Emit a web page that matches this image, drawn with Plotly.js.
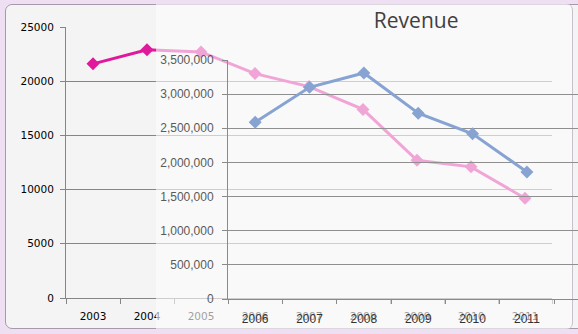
<!DOCTYPE html>
<html><head><meta charset="utf-8">
<script src="https://cdn.plot.ly/plotly-3.0.1.min.js"></script>
<style>
html,body{margin:0;padding:0;width:578px;height:334px;overflow:hidden;background:#eedff2;}
#box{position:absolute;left:5px;top:4px;width:590px;height:323px;background:#f4f4f4;border:1px solid #a898ae;border-radius:7px;}
#back{position:absolute;left:0;top:0;width:578px;height:334px;}
#veil{position:absolute;left:156px;top:4px;width:416px;height:325px;background:rgba(251,251,251,0.62);border-right:1px solid #c8c0cc;border-radius:0 6px 6px 0;}
#front{position:absolute;left:0;top:0;width:578px;height:334px;}
</style></head>
<body>
<div id="box"></div>
<div id="back"></div>
<div id="veil"></div>
<div id="front"></div>
<script>
// Back chart (left axis 0-25000)
const backYears = ['2003','2004','2005','2006','2007','2008','2009','2010','2011'];
const backValues = [21600, 22900, 22700, 20700, 19500, 17400, 12700, 12100, 9200];
const backTicks = [0, 5000, 10000, 15000, 20000, 25000];

// Front chart "Revenue"
const frontYears = ['2006','2007','2008','2009','2010','2011'];
const revenue = [2590000, 3100000, 3310000, 2720000, 2420000, 1860000];
const frontTicks = [0, 500000, 1000000, 1500000, 2000000, 2500000, 3000000, 3500000];

Plotly.newPlot('back', [{
  type:'scatter', mode:'lines+markers', x:backYears, y:backValues,
  line:{color:'#e0199c', width:3},
  marker:{symbol:'diamond', size:10, color:'#e0199c'},
  hoverinfo:'none'
}], {
  width:578, height:334,
  margin:{l:66, r:26, t:27, b:36},
  paper_bgcolor:'rgba(0,0,0,0)', plot_bgcolor:'rgba(0,0,0,0)',
  showlegend:false,
  font:{family:'DejaVu Sans', size:10.5, color:'#000'},
  xaxis:{type:'category', range:[-0.5, 8.5], tickson:'boundaries', ticks:'outside', ticklen:5,
    tickcolor:'#858585', showline:true, linecolor:'#858585', showgrid:false, zeroline:false,
    ticklabelstandoff:8, fixedrange:true},
  yaxis:{range:[0,25000], tickvals:backTicks, tickformat:'d', ticks:'outside', ticklen:5,
    tickcolor:'#858585', showline:true, linecolor:'#858585', gridcolor:'#858585', gridwidth:1,
    zeroline:false, ticklabelstandoff:4, fixedrange:true}
}, {staticPlot:true});

Plotly.newPlot('front', [{
  type:'scatter', mode:'lines+markers', x:frontYears, y:revenue,
  line:{color:'#87a3d2', width:3},
  marker:{symbol:'diamond', size:10, color:'#87a3d2'},
  hoverinfo:'none'
}], {
  width:578, height:334,
  margin:{l:228, r:0, t:60, b:35},
  paper_bgcolor:'rgba(0,0,0,0)', plot_bgcolor:'rgba(0,0,0,0)',
  showlegend:false,
  font:{family:'Liberation Sans', size:12, color:'#595959'},
  title:{text:'Revenue', xref:'container', x:0.72, xanchor:'center', yref:'container', y:0.938, yanchor:'middle',
    font:{family:'Open Sans', size:21, color:'#404040'}},
  xaxis:{type:'category', range:[-0.5, 5.94], tickson:'boundaries', ticks:'outside', ticklen:4,
    tickcolor:'#8a8a8a', showline:true, linecolor:'#8a8a8a', showgrid:false, zeroline:false,
    tickfont:{color:'#333333'}, ticklabelstandoff:9, fixedrange:true},
  yaxis:{range:[0,3500000], tickvals:frontTicks, tickformat:',d', ticks:'outside', ticklen:5,
    tickcolor:'#8a8a8a', showline:true, linecolor:'#8a8a8a', gridcolor:'#8f8f8f', gridwidth:1,
    zeroline:false, ticklabelstandoff:6, fixedrange:true}
}, {staticPlot:true});
</script>
</body></html>
